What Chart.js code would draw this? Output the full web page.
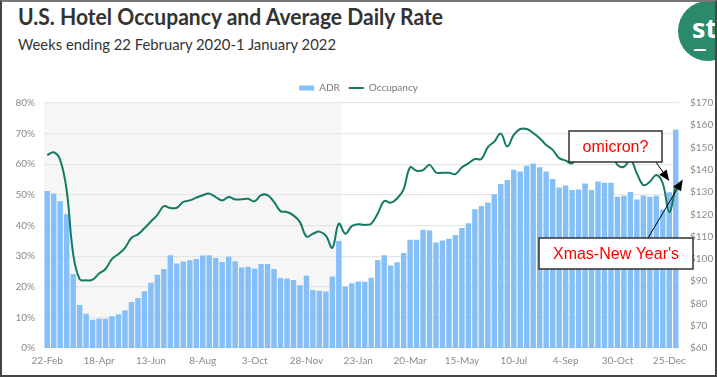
<!DOCTYPE html>
<html>
<head>
<meta charset="utf-8">
<script src="https://cdn.jsdelivr.net/npm/chart.js@4.4.0/dist/chart.umd.min.js"></script>
<style>
html, body { margin: 0; padding: 0; background: #fff; }
#page { position: relative; width: 717px; height: 377px; overflow: hidden; background: #fff; }
#title { position: absolute; left: 18px; top: 6px; font: bold 22px Lato, sans-serif; line-height: 1; color: #333; white-space: nowrap; transform-origin: 0 0; }
#subtitle { position: absolute; left: 18px; top: 36px; font: 16px Lato, sans-serif; line-height: 1; color: #333; white-space: nowrap; transform-origin: 0 0; }
#logo { position: absolute; left: 678px; top: 1px; width: 60px; height: 60px; border-radius: 50%; background: #2b8a6c; }
#logo span { position: absolute; left: 14px; top: 13px; font: bold 27px "Open Sans", sans-serif; color: #fff; line-height: 1; }
#logo i { position: absolute; left: 16px; top: 48px; width: 12px; height: 2px; background: #fff; }
#box { position: absolute; left: 0; top: 74px; width: 717px; height: 303px; }
#frame { position: absolute; left: 0; top: 0; width: 717px; height: 377px; box-sizing: border-box; border: 2px solid #444; border-top-color: #777; pointer-events: none; }
</style>
</head>
<body>
<div id="page">
  <div id="title">U.S. Hotel Occupancy and Average Daily Rate</div>
  <div id="subtitle">Weeks ending 22 February 2020-1 January 2022</div>
  <div id="logo"><span>st</span><i></i></div>
  <div id="box"><canvas id="chart"></canvas></div>
  <div id="frame"></div>
</div>
<script>
// weekly categories, week ending 22 Feb 2020 .. 1 Jan 2022 (98 weeks)
var monthNames = ['Jan','Feb','Mar','Apr','May','Jun','Jul','Aug','Sep','Oct','Nov','Dec'];
var weeks = [];
for (var i = 0; i < 98; i++) {
  var d = new Date(2020, 1, 22 + 7 * i);
  weeks.push(d.getDate() + '-' + monthNames[d.getMonth()]);
}

var tickLabels = ['22-Feb','18-Apr','13-Jun','8-Aug','3-Oct','28-Nov','23-Jan','20-Mar','15-May','10-Jul','4-Sep','30-Oct','25-Dec'];

// ADR in dollars (right axis)
var adr = [130.5,129.4,125.9,120.1,93.2,79.3,75.4,72.7,73.1,73.1,
  74.2,75.2,76.9,80.7,82.5,85.5,89.3,92.9,95.5,101.6,
  97.9,98.8,99.4,100.0,101.5,101.6,100.4,98.6,101.0,98.9,
  96.1,96.5,95.6,97.7,97.7,95.5,91.4,91.2,90.5,88.2,
  92.4,86.0,85.7,85.4,92.1,108.0,87.6,89.1,89.9,89.7,
  91.5,99.5,101.6,97.0,98.5,102.7,108.6,108.6,113.1,112.7,
  107.4,108.3,109.0,110.7,113.9,116.0,122.3,123.7,125.3,129.0,
  133.6,135.4,140.0,139.2,141.8,142.8,141.2,139.2,135.9,132.1,
  133.0,130.9,131.2,133.9,130.9,134.8,134.2,134.2,127.9,128.4,
  130.0,126.7,128.5,127.9,128.4,122.2,129.9,158.1];

// occupancy in percent (left axis)
var occupancy = [63.0,63.9,61.4,51.5,30.7,22.5,22.1,22.3,24.3,25.8,
  29.1,30.7,32.7,36.0,37.1,39.1,41.3,43.5,46.3,45.7,
  45.8,47.7,48.2,49.1,49.9,50.4,49.3,48.2,49.3,48.5,
  48.6,48.7,47.9,49.9,49.9,47.7,44.7,44.4,43.3,41.1,
  36.4,37.3,38.0,36.7,32.7,40.6,37.3,39.8,40.4,40.2,
  40.6,43.9,48.0,47.4,48.8,51.8,59.0,57.9,58.1,59.8,
  57.3,57.2,57.2,56.8,59.0,60.3,61.7,61.7,65.6,67.4,
  70.0,65.8,69.6,71.5,71.5,70.2,68.5,66.3,64.7,62.0,
  61.2,60.3,62.5,63.0,61.6,63.6,64.5,64.1,59.8,59.2,
  61.4,57.0,53.2,54.3,56.5,53.7,44.4,53.2];

var shadeLastIndex = 45;   // 2020 weeks shaded

function fitWidth(id, w) {
  var el = document.getElementById(id);
  var cur = el.getBoundingClientRect().width;
  el.style.transform = 'scaleX(' + (w / cur) + ')';
}
fitWidth('title', 425);
fitWidth('subtitle', 318);

var tickFont = { family: 'Lato', size: 10 };

var shadePlugin = {
  id: 'shade',
  beforeDraw: function(chart) {
    var ctx = chart.ctx, a = chart.chartArea, x = chart.scales.x;
    var end = (x.getPixelForValue(shadeLastIndex) + x.getPixelForValue(shadeLastIndex + 1)) / 2;
    ctx.save();
    ctx.fillStyle = '#f6f6f6';
    ctx.fillRect(a.left, a.top, end - a.left, a.bottom - a.top);
    ctx.restore();
  }
};

function arrow(ctx, x1, y1, x2, y2) {
  var ang = Math.atan2(y2 - y1, x2 - x1), len = 11, half = 4.5;
  var bx = x2 - len * Math.cos(ang), by = y2 - len * Math.sin(ang);
  ctx.beginPath();
  ctx.moveTo(x1, y1);
  ctx.lineTo(bx, by);
  ctx.stroke();
  ctx.beginPath();
  ctx.moveTo(x2, y2);
  ctx.lineTo(bx + half * Math.sin(ang), by - half * Math.cos(ang));
  ctx.lineTo(bx - half * Math.sin(ang), by + half * Math.cos(ang));
  ctx.closePath();
  ctx.fill();
}

function callout(ctx, text, left, top, w, h) {
  ctx.fillStyle = '#fff';
  ctx.fillRect(left, top, w, h);
  ctx.lineWidth = 1.5;
  ctx.strokeStyle = '#333';
  ctx.strokeRect(left, top, w, h);
  ctx.fillStyle = '#ff0000';
  ctx.font = '16px "Liberation Sans", Arial, sans-serif';
  ctx.textAlign = 'center';
  ctx.textBaseline = 'middle';
  ctx.fillText(text, left + w / 2, top + h / 2 + 1);
}

var notePlugin = {
  id: 'notes',
  afterDraw: function(chart) {
    var ctx = chart.ctx, x = chart.scales.x, y = chart.scales.y;
    ctx.save();
    ctx.strokeStyle = '#000';
    ctx.fillStyle = '#000';
    ctx.lineWidth = 1;
    // omicron?
    arrow(ctx, 653, 84, x.getPixelForValue(96), y.getPixelForValue(54.5));
    callout(ctx, 'omicron?', 569, 57, 93, 31);
    // Xmas-New Year's
    ctx.strokeStyle = '#000';
    ctx.fillStyle = '#000';
    ctx.lineWidth = 1;
    arrow(ctx, 648, 164, x.getPixelForValue(97) + 7, y.getPixelForValue(55));
    callout(ctx, "Xmas-New Year's", 539, 164, 154, 31);
    ctx.restore();
  }
};

new Chart(document.getElementById('chart'), {
  data: {
    labels: weeks,
    datasets: [
      {
        type: 'bar',
        label: 'ADR',
        data: adr,
        yAxisID: 'y1',
        backgroundColor: '#85bff8',
        borderWidth: 0,
        barPercentage: 0.84,
        categoryPercentage: 1.0,
        pointStyle: 'rect',
        order: 2
      },
      {
        type: 'line',
        label: 'Occupancy',
        data: occupancy,
        yAxisID: 'y',
        borderColor: '#137a63',
        backgroundColor: '#137a63',
        borderWidth: 2,
        pointRadius: 0,
        tension: 0.4,
        pointStyle: 'line',
        order: 1
      }
    ]
  },
  options: {
    responsive: true,
    maintainAspectRatio: false,
    animation: false,
    layout: { padding: { left: 0, right: 0, top: 0, bottom: 0 } },
    plugins: {
      tooltip: { enabled: false },
      legend: {
        position: 'top',
        labels: {
          usePointStyle: true,
          pointStyleWidth: 15,
          boxHeight: 5,
          padding: 9,
          color: '#777',
          font: { family: 'Lato', size: 10 },
          sort: function(a, b) { return a.datasetIndex - b.datasetIndex; }
        }
      }
    },
    scales: {
      x: {
        type: 'category',
        offset: true,
        grid: { display: false, drawTicks: false },
        border: { display: false },
        afterFit: function(s) { s.height = 29; },
        ticks: {
          autoSkip: false,
          maxRotation: 0,
          padding: 7,
          color: '#8a8a8a',
          font: tickFont,
          callback: function(v, idx) {
            var lab = weeks[idx];
            return tickLabels.indexOf(lab) >= 0 ? lab : '';
          }
        }
      },
      y: {
        position: 'left',
        min: 0,
        max: 80,
        grid: { color: '#e6e6e6', lineWidth: 1.2, drawTicks: false },
        border: { display: false },
        afterFit: function(s) { s.width = 44; },
        ticks: {
          stepSize: 10,
          padding: 9,
          color: '#8a8a8a',
          font: tickFont,
          callback: function(v) { return v + '%'; }
        }
      },
      y1: {
        position: 'right',
        min: 60,
        max: 170,
        grid: { drawOnChartArea: false, drawTicks: false },
        border: { display: false },
        afterFit: function(s) { s.width = 38; },
        ticks: {
          stepSize: 10,
          padding: 11,
          color: '#8a8a8a',
          font: tickFont,
          callback: function(v) { return '$' + v; }
        }
      }
    }
  },
  plugins: [shadePlugin, notePlugin]
});
</script>
</body>
</html>
